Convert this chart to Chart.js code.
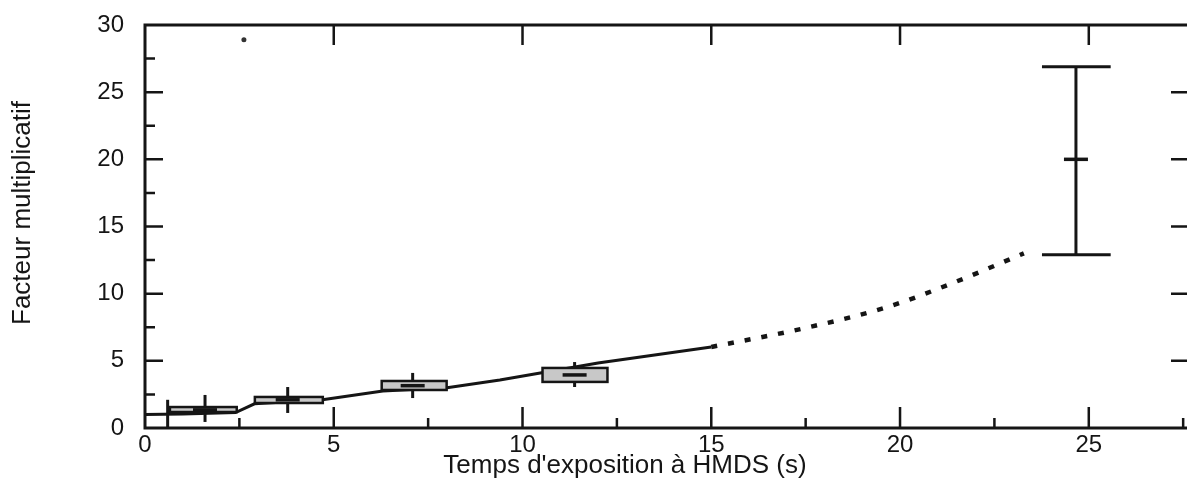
<!DOCTYPE html>
<html>
<head>
<meta charset="utf-8">
<script src="https://cdn.jsdelivr.net/npm/chart.js@4.4.0/dist/chart.umd.min.js"></script>
<style>
  html, body { margin: 0; padding: 0; background: #fff; overflow: hidden; }
  #wrap { position: relative; width: 1210px; height: 489px; }
</style>
</head>
<body>
<div id="wrap"><canvas id="chart"></canvas></div>
<script>
// tick labels
const xTicks = [0, 5, 10, 15, 20, 25];
const yTicks = [0, 5, 10, 15, 20, 25, 30];
const xTitle = "Temps d'exposition à HMDS (s)";
const yTitle = "Facteur multiplicatif";

// fitted curve (solid part) and its extrapolation (dotted)
const fitX = [0, 1.0, 2.4, 2.9, 4.7, 6.3, 8.0, 9.4, 12.0, 15.0];
const fitY = [1.0, 1.05, 1.15, 1.8, 2.1, 2.75, 3.0, 3.57, 4.84, 6.03];
const extX = [15.0, 17.5, 19.66, 21.4, 23.28];
const extY = [6.03, 7.45, 9.0, 10.8, 13.0];

// measured points with their error ranges
const ptX = [0.6, 1.59, 3.78, 7.09, 11.38, 24.66];
const ptY = [1.0, 1.35, 2.1, 3.15, 3.95, 20.0];
const errLow = [0.0, 0.45, 1.12, 2.23, 3.05, 12.9];
const errHigh = [2.1, 2.46, 3.05, 4.1, 4.91, 26.9];
const boxXLow = [null, 0.66, 2.91, 6.27, 10.53, 23.76];
const boxXHigh = [null, 2.43, 4.71, 7.99, 12.25, 25.58];
const boxYLow = [null, 1.19, 1.86, 2.83, 3.43, null];
const boxYHigh = [null, 1.56, 2.31, 3.5, 4.47, null];

// stray speck on the scan
const strayX = [2.62];
const strayY = [28.9];

const FONT = "'Liberation Sans', Arial, Helvetica, sans-serif";
const INK = "#151515";

// frame + inward ticks on all four sides
const framePlugin = {
  id: "frame",
  afterDraw(chart) {
    const ctx = chart.ctx;
    const a = chart.chartArea;
    const xs = chart.scales.x;
    const ys = chart.scales.y;
    ctx.save();
    ctx.strokeStyle = INK;
    ctx.lineWidth = 3;
    ctx.strokeRect(a.left, a.top, a.right - a.left, a.bottom - a.top);
    ctx.lineWidth = 2.5;
    ctx.beginPath();
    // left / right
    for (let v = 2.5; v < 30; v += 2.5) {
      const py = ys.getPixelForValue(v);
      const major = v % 5 === 0;
      ctx.moveTo(a.left, py);
      ctx.lineTo(a.left + (major ? 18 : 10), py);
      if (major) {
        ctx.moveTo(a.right, py);
        ctx.lineTo(a.right - 25, py);
      }
    }
    // bottom / top
    for (let v = 2.5; v < xs.max; v += 2.5) {
      const px = xs.getPixelForValue(v);
      const major = v % 5 === 0;
      ctx.moveTo(px, a.bottom);
      ctx.lineTo(px, a.bottom - (major ? 21 : 10));
      if (major) {
        ctx.moveTo(px, a.top);
        ctx.lineTo(px, a.top + 20);
      }
    }
    ctx.stroke();

    // axis titles
    ctx.fillStyle = INK;
    ctx.font = "26px " + FONT;
    ctx.textAlign = "center";
    ctx.textBaseline = "middle";
    ctx.fillText(xTitle, 625, 466);
    ctx.translate(23, 213);
    ctx.rotate(-Math.PI / 2);
    ctx.fillText(yTitle, 0, 0);
    ctx.restore();
  },
};

// error bars and range boxes
const errorPlugin = {
  id: "errorMarks",
  afterDatasetsDraw(chart) {
    const ctx = chart.ctx;
    const xs = chart.scales.x;
    const ys = chart.scales.y;
    ctx.save();
    ctx.strokeStyle = INK;
    ctx.lineWidth = 3;
    ptX.forEach((x, i) => {
      const px = xs.getPixelForValue(x);
      const py = ys.getPixelForValue(ptY[i]);
      ctx.beginPath();
      ctx.moveTo(px, ys.getPixelForValue(errLow[i]));
      ctx.lineTo(px, ys.getPixelForValue(errHigh[i]));
      ctx.stroke();
      if (boxXLow[i] === null) return;
      const x1 = xs.getPixelForValue(boxXLow[i]);
      const x2 = xs.getPixelForValue(boxXHigh[i]);
      if (boxYLow[i] !== null) {
        const y1 = ys.getPixelForValue(boxYHigh[i]);
        const y2 = ys.getPixelForValue(boxYLow[i]);
        ctx.fillStyle = "#c8c8c8";
        ctx.fillRect(x1, y1, x2 - x1, y2 - y1);
        ctx.lineWidth = 2.5;
        ctx.strokeRect(x1, y1, x2 - x1, y2 - y1);
      } else {
        // capped error bar
        ctx.lineWidth = 3;
        ctx.beginPath();
        ctx.moveTo(x1, ys.getPixelForValue(errLow[i]));
        ctx.lineTo(x2, ys.getPixelForValue(errLow[i]));
        ctx.moveTo(x1, ys.getPixelForValue(errHigh[i]));
        ctx.lineTo(x2, ys.getPixelForValue(errHigh[i]));
        ctx.stroke();
      }
      // centre mark
      ctx.lineWidth = 3.5;
      ctx.beginPath();
      ctx.moveTo(px - 12, py);
      ctx.lineTo(px + 12, py);
      ctx.stroke();
      ctx.lineWidth = 3;
    });
    ctx.restore();
  },
};

const ctxChart = document.getElementById("chart").getContext("2d");
const chart = new Chart(ctxChart, {
  type: "line",
  data: {
    datasets: [
      {
        label: "fit",
        data: fitX.map((x, i) => ({ x: x, y: fitY[i] })),
        borderColor: INK,
        borderWidth: 3,
        pointRadius: 0,
        tension: 0,
      },
      {
        label: "extrapolation",
        data: extX.map((x, i) => ({ x: x, y: extY[i] })),
        borderColor: INK,
        borderWidth: 4.5,
        borderDash: [6, 11],
        pointRadius: 0,
        cubicInterpolationMode: "monotone",
      },
      {
        label: "speck",
        data: strayX.map((x, i) => ({ x: x, y: strayY[i] })),
        showLine: false,
        pointRadius: 2.5,
        pointBackgroundColor: "#333",
        pointBorderWidth: 0,
      },
    ],
  },
  options: {
    responsive: true,
    maintainAspectRatio: false,
    animation: false,
    layout: { padding: { left: 6, right: 14, top: 25, bottom: 4 } },
    plugins: {
      legend: { display: false },
      tooltip: { enabled: false },
    },
    scales: {
      x: {
        type: "linear",
        min: 0,
        max: 27.84,
        grid: { display: false, drawTicks: false },
        border: { display: false },
        ticks: { font: { family: FONT, size: 24 }, color: INK, padding: 3 },
        afterBuildTicks: (scale) => {
          scale.ticks = xTicks.map((v) => ({ value: v }));
        },
        afterFit: (scale) => {
          scale.height = 57;
        },
      },
      y: {
        min: 0,
        max: 30,
        grid: { display: false, drawTicks: false },
        border: { display: false },
        ticks: { font: { family: FONT, size: 24 }, color: INK, padding: 21 },
        afterBuildTicks: (scale) => {
          scale.ticks = yTicks.map((v) => ({ value: v }));
        },
        afterFit: (scale) => {
          scale.width = 139;
          scale.paddingTop = 0;
          scale.paddingBottom = 0;
        },
      },
    },
  },
  plugins: [framePlugin, errorPlugin],
});
</script>
</body>
</html>
